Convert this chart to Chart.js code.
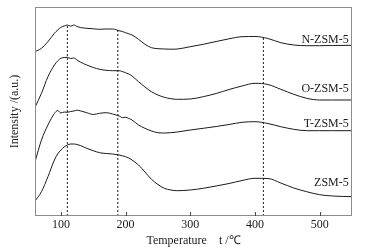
<!-- Chart.js -->
<script src="https://cdn.jsdelivr.net/npm/chart.js"></script>

<style>
  body { margin: 0; background: #fff; }
</style>

<canvas id="tpdChart" width="373" height="252"></canvas>

<script>
  // temperature points (°C)
  const temps = [60, 70, 80, 90, 95, 100, 105, 110, 115, 120, 125, 130, 140, 150, 160, 170, 180, 190, 195, 200,
    205, 210, 220, 230, 240, 250, 260, 270, 280, 300, 320, 340, 360, 380, 400, 420, 440, 460, 480, 500, 520, 550];

  // intensity (a.u., curves stacked with offsets)
  const nZsm5 = [164.3, 167.7, 174.3, 182.7, 186, 188.7, 190, 191, 189.8, 191, 189.5, 188.5, 187.7, 187.2, 186.7, 187, 187, 185.3, 184.5, 183.3,
    182.2, 181, 176.7, 171.7, 168.3, 167.3, 167, 166.8, 167, 169.3, 171.7, 174.5, 177.2, 179.3, 179.5, 177.5, 173.3, 171, 170.3, 170.3, 170.5, 170.7];
  const oZsm5 = [108.7, 122.7, 139.3, 151, 155, 157.7, 158.5, 158.7, 157.5, 158, 156, 154, 151, 148.5, 146.7, 145.7, 145.3, 145.3, 144.5, 143.3,
    142, 140, 134.3, 129, 124.3, 121, 118.7, 117.3, 116.7, 117, 119.3, 122.5, 126.5, 130, 132.7, 131.5, 126.7, 121.7, 117.7, 116, 116, 116];
  const tZsm5 = [54.3, 76, 91, 102.5, 105.5, 103, 104, 103.7, 104.5, 105, 105.8, 105.2, 103.3, 101.5, 102.7, 103.3, 102, 100, 98.5, 98.7,
    97.5, 96, 91, 87.7, 85, 83.3, 83, 83.3, 84, 86, 87.7, 89.5, 91.5, 93.7, 94.3, 92.5, 89.3, 86.7, 85.3, 85.3, 85.3, 85.3];
  const zsm5 = [15, 24.3, 39.3, 56, 62, 66, 69, 71, 72, 72, 71.5, 70.5, 67.7, 65.3, 63.3, 62.5, 62, 61, 60.2, 59.3,
    58, 56, 51, 44, 36.7, 31.5, 27.7, 26, 25.3, 26, 27.7, 30, 32.5, 35.5, 37.7, 37.5, 33, 28, 24.3, 21.3, 20, 19.3];

  const seriesNames = ['N-ZSM-5', 'O-ZSM-5', 'T-ZSM-5', 'ZSM-5'];
  const labelY = [176, 127, 92, 33.5];
  const labelX = 545;

  // dashed reference lines
  const markerTemps = [110, 188, 413];
  const markerTops = [191, 186, 178];

  const xTicks = [100, 200, 300, 400, 500];

  const serif = 'Liberation Serif';

  const toPoints = vals => temps.map((t, i) => ({ x: t, y: vals[i] }));

  const curves = [nZsm5, oZsm5, tZsm5, zsm5].map(vals => ({
    data: toPoints(vals),
    borderColor: '#1a1a1a',
    borderWidth: 1,
    pointRadius: 0,
    cubicInterpolationMode: 'monotone',
    fill: false
  }));

  const markers = markerTemps.map((t, i) => ({
    data: [{ x: t, y: 0 }, { x: t, y: markerTops[i] }],
    borderColor: '#1a1a1a',
    borderWidth: 1,
    borderDash: [2, 2],
    pointRadius: 0,
    fill: false
  }));

  // frame, inward ticks, curve names
  const decor = {
    id: 'decor',
    afterDraw(chart) {
      const ctx = chart.ctx;
      const area = chart.chartArea;
      const x = chart.scales.x, y = chart.scales.y;
      ctx.save();
      ctx.strokeStyle = '#8c8c8c';
      ctx.lineWidth = 1;
      ctx.strokeRect(area.left + 0.5, area.top + 0.5, area.right - area.left - 1, area.bottom - area.top - 1);
      ctx.strokeStyle = '#444';
      xTicks.forEach(v => {
        const px = Math.round(x.getPixelForValue(v)) + 0.5;
        ctx.beginPath();
        ctx.moveTo(px, area.bottom);
        ctx.lineTo(px, area.bottom - 4);
        ctx.stroke();
      });
      ctx.fillStyle = '#1a1a1a';
      ctx.font = '12px "' + serif + '"';
      ctx.textAlign = 'right';
      ctx.textBaseline = 'middle';
      seriesNames.forEach((name, i) => {
        ctx.fillText(name, x.getPixelForValue(labelX), y.getPixelForValue(labelY[i]));
      });
      ctx.restore();
    }
  };

  new Chart(document.getElementById('tpdChart'), {
    type: 'line',
    data: { datasets: [...curves, ...markers] },
    options: {
      responsive: false,
      animation: false,
      devicePixelRatio: 1,
      layout: { padding: { top: 7, right: 21, left: 0, bottom: 0 } },
      plugins: {
        legend: { display: false },
        tooltip: { enabled: false }
      },
      scales: {
        x: {
          type: 'linear',
          min: 60,
          max: 550,
          afterBuildTicks: s => { s.ticks = xTicks.map(v => ({ value: v })); },
          afterFit: s => { s.height = 36; },
          grid: { display: false, drawTicks: false },
          border: { display: false },
          ticks: { padding: 2, color: '#1a1a1a', font: { family: serif, size: 12 } },
          title: {
            display: true,
            text: 'Temperature    t /℃',
            color: '#1a1a1a',
            font: { family: serif, size: 12 },
            padding: { top: 0, bottom: 4 }
          }
        },
        y: {
          min: 0,
          max: 209,
          afterFit: s => { s.width = 35; },
          grid: { display: false, drawTicks: false },
          border: { display: false },
          ticks: { display: false },
          title: {
            display: true,
            text: 'Intensity /(a.u.)',
            color: '#1a1a1a',
            font: { family: serif, size: 12 },
            padding: { top: 8, bottom: 0 }
          }
        }
      }
    },
    plugins: [decor]
  });
</script>
